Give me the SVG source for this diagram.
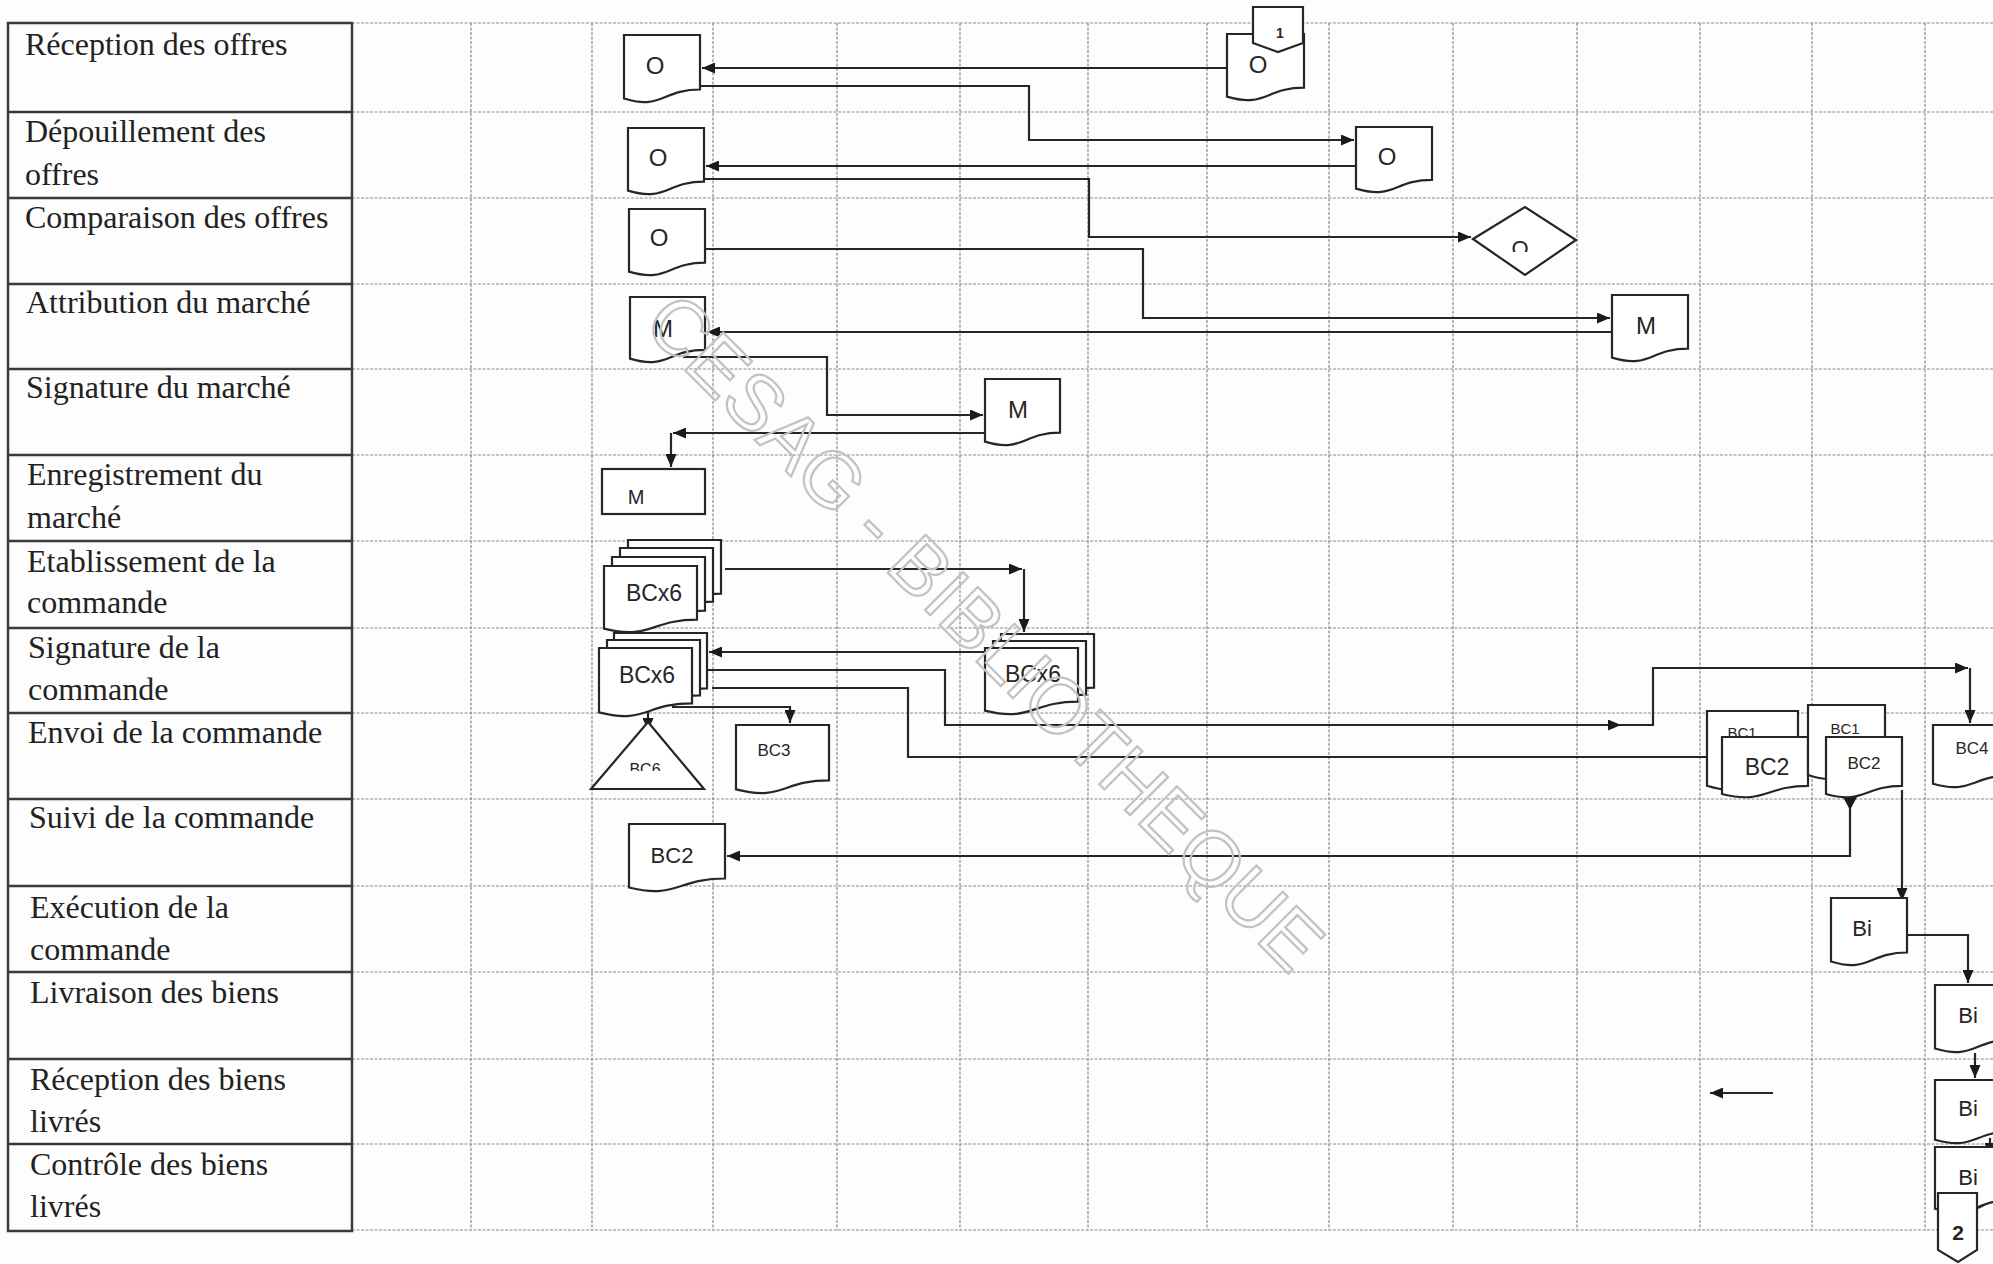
<svg xmlns="http://www.w3.org/2000/svg" width="1993" height="1264" viewBox="0 0 1993 1264">
<defs>
<style>
.grid{stroke:#8c8c8c;stroke-width:1.2;stroke-dasharray:3 1.5;fill:none}
.lane{stroke:#3a3a3a;stroke-width:2.5;fill:none}
.shape{fill:#fff;stroke:#262626;stroke-width:2.2;stroke-linejoin:miter}
.conn{fill:none;stroke:#262626;stroke-width:2.2;marker-end:url(#ah)}
.line{fill:none;stroke:#262626;stroke-width:2.2}
.lbl{font-family:"Liberation Serif","Times New Roman",serif;font-size:32px;fill:#222}
.t{font-family:"Liberation Sans",Arial,sans-serif;fill:#262626;text-anchor:middle}
.wm{font-family:"Liberation Sans",Arial,sans-serif;font-size:78px;fill:none;stroke:#c2c2c2;stroke-width:2.2;text-anchor:middle}
</style>
<marker id="ah" viewBox="0 0 10 10" refX="10" refY="5" markerWidth="13" markerHeight="11" markerUnits="userSpaceOnUse" orient="auto" preserveAspectRatio="none">
<path d="M0,0 L10,5 L0,10 z" fill="#1a1a1a"/>
</marker>
<clipPath id="clipDia"><rect x="1490" y="220" width="70" height="32"/></clipPath>
<clipPath id="clipTri"><rect x="600" y="740" width="100" height="31"/></clipPath>
</defs>
<rect x="0" y="0" width="1993" height="1264" fill="#fdfdfd"/>

<g id="grid">
<path class="grid" d="M352,23 H1993 M352,112 H1993 M352,198 H1993 M352,284 H1993 M352,369 H1993 M352,455 H1993 M352,541 H1993 M352,628 H1993 M352,713 H1993 M352,799 H1993 M352,886 H1993 M352,972 H1993 M352,1059 H1993 M352,1144 H1993 M352,1230 H1993"/>
<path class="grid" d="M471,23 V1230 M592,23 V1230 M713,23 V1230 M837,23 V1230 M960,23 V1230 M1088,23 V1230 M1207,23 V1230 M1329,23 V1230 M1453,23 V1230 M1577,23 V1230 M1700,23 V1230 M1812,23 V1230 M1925,23 V1230"/>
</g>

<g id="lanes">
<rect class="lane" x="8" y="23" width="344" height="1208"/>
<path class="lane" stroke-width="2" d="M8,112 H352 M8,198 H352 M8,284 H352 M8,369 H352 M8,455 H352 M8,541 H352 M8,628 H352 M8,713 H352 M8,799 H352 M8,886 H352 M8,972 H352 M8,1059 H352 M8,1144 H352"/>
<text class="lbl" x="25" y="55">Réception des offres</text>
<text class="lbl" x="25" y="142">Dépouillement des</text>
<text class="lbl" x="25" y="185">offres</text>
<text class="lbl" x="25" y="228">Comparaison des offres</text>
<text class="lbl" x="26" y="313">Attribution du marché</text>
<text class="lbl" x="26" y="398">Signature du marché</text>
<text class="lbl" x="27" y="485">Enregistrement du</text>
<text class="lbl" x="27" y="528">marché</text>
<text class="lbl" x="27" y="572">Etablissement de la</text>
<text class="lbl" x="27" y="613">commande</text>
<text class="lbl" x="28" y="658">Signature de la</text>
<text class="lbl" x="28" y="700">commande</text>
<text class="lbl" x="28" y="743">Envoi de la commande</text>
<text class="lbl" x="29" y="828">Suivi de la commande</text>
<text class="lbl" x="30" y="918">Exécution de la</text>
<text class="lbl" x="30" y="960">commande</text>
<text class="lbl" x="30" y="1003">Livraison des biens</text>
<text class="lbl" x="30" y="1090">Réception des biens</text>
<text class="lbl" x="30" y="1132">livrés</text>
<text class="lbl" x="30" y="1175">Contrôle des biens</text>
<text class="lbl" x="30" y="1217">livrés</text>
</g>

<g id="connectors">
<path class="conn" d="M1227,68 H702"/>
<path class="conn" d="M700,86 H1029 V140 H1354"/>
<path class="conn" d="M1356,166 H706"/>
<path class="conn" d="M704,179 H1089 V237 H1471"/>
<path class="conn" d="M705,249 H1143 V318 H1610"/>
<path class="conn" d="M1612,332 H707"/>
<path class="conn" d="M683,357 H827 V415 H983"/>
<path class="conn" d="M985,433 H673"/>
<path class="conn" d="M671,433 V467"/>
<path class="conn" d="M725,569 H1022"/>
<path class="conn" d="M1024,569 V632"/>
<path class="conn" d="M985,652 H709"/>
<path class="conn" d="M705,670 H945 V725 H1621"/>
<path class="conn" d="M1621,725 H1653 V668 H1968"/>
<path class="conn" d="M1970,668 V723"/>
<path class="conn" d="M712,688 H908 V757 H1720"/>
<path class="conn" d="M1808,756 H1824"/>
<path class="conn" d="M672,707 H790 V723"/>
<path class="conn" d="M648,712 V731"/>
<path class="conn" d="M1850,800 V856 H727"/>
<polygon points="1843,797 1857,797 1850,810" fill="#1a1a1a"/>
<path class="conn" d="M1902,790 V901"/>
<path class="conn" d="M1907,935 H1968 V983"/>
<path class="conn" d="M1975,1053 V1078"/>
<path class="conn" d="M1990,1138 V1156"/>
<path class="line" d="M1978,1208 L1995,1199"/>
<path class="conn" d="M1773,1093 H1710"/>
</g>

<g id="n-o1"><path class="shape" d="M624,35 H700 V89.5 C662,89.5 662,110.3 624,98.5 Z"/><text class="t" x="655" y="74" font-size="24">O</text></g>
<g id="n-o1r"><path class="shape" d="M1227,34 H1304 V87.7 C1265.5,87.7 1265.5,108.2 1227,96.6 Z"/><text class="t" x="1258" y="73" font-size="24">O</text></g>
<g id="n-conn1"><polygon class="shape" points="1253,7 1303,7 1303,43 1278,52 1253,43"/><text class="t" x="1280" y="38" font-size="14" font-weight="bold">1</text></g>
<g id="n-o2"><path class="shape" d="M628,128 H704 V181.7 C666,181.7 666,202.2 628,190.6 Z"/><text class="t" x="658" y="166" font-size="24">O</text></g>
<g id="n-o2r"><path class="shape" d="M1356,127 H1432 V179.9 C1394,179.9 1394,200.1 1356,188.6 Z"/><text class="t" x="1387" y="165" font-size="24">O</text></g>
<g id="n-o3"><path class="shape" d="M629,209 H705 V262.7 C667,262.7 667,283.2 629,271.6 Z"/><text class="t" x="659" y="246" font-size="24">O</text></g>
<g id="n-dia"><polygon class="shape" stroke-width="2" points="1473,239 1525,207 1576,240 1525,275"/><text class="t" x="1520" y="256" font-size="22" clip-path="url(#clipDia)">O</text></g>
<g id="n-m4"><path class="shape" d="M630,297 H705 V349.9 C667.5,349.9 667.5,370.1 630,358.6 Z"/><text class="t" x="663" y="337" font-size="24">M</text></g>
<g id="n-m4r"><path class="shape" d="M1612,295 H1688 V348.7 C1650,348.7 1650,369.2 1612,357.6 Z"/><text class="t" x="1646" y="334" font-size="24">M</text></g>
<g id="n-m5"><path class="shape" d="M985,379 H1060 V432.7 C1022.5,432.7 1022.5,453.2 985,441.6 Z"/><text class="t" x="1018" y="418" font-size="24">M</text></g>
<g id="n-m6"><rect class="shape" x="602" y="469" width="103" height="45"/><text class="t" x="636" y="504" font-size="20">M</text></g>
<g id="n-bcx6a">
<path class="shape" d="M628,540 H721 V593.7 C674.5,593.7 674.5,614.2 628,602.6 Z"/>
<path class="shape" d="M620,548 H713 V601.7 C666.5,601.7 666.5,622.2 620,610.6 Z"/>
<path class="shape" d="M612,557 H705 V610.7 C658.5,610.7 658.5,631.2 612,619.6 Z"/>
<path class="shape" d="M604,566 H697 V619.7 C650.5,619.7 650.5,640.2 604,628.6 Z"/>
<text class="t" x="654" y="601" font-size="23">BCx6</text></g>
<g id="n-bcx6b">
<path class="shape" d="M614,633 H707 V688.3 C660.5,688.3 660.5,709.4 614,697.4 Z"/>
<path class="shape" d="M607,640 H700 V695.3 C653.5,695.3 653.5,716.4 607,704.4 Z"/>
<path class="shape" d="M599,648 H692 V703.3 C645.5,703.3 645.5,724.4 599,712.4 Z"/>
<text class="t" x="647" y="683" font-size="23">BCx6</text></g>
<g id="n-bcx6c">
<path class="shape" d="M1001,634 H1094 V687.7 C1047.5,687.7 1047.5,708.2 1001,696.6 Z"/>
<path class="shape" d="M993,641 H1086 V694.7 C1039.5,694.7 1039.5,715.2 993,703.6 Z"/>
<path class="shape" d="M985,648 H1078 V701.7 C1031.5,701.7 1031.5,722.2 985,710.6 Z"/>
<text class="t" x="1033" y="682" font-size="23">BCx6</text></g>
<g id="n-bc6"><polygon class="shape" points="648,722 704,789 591,789"/><text class="t" x="645" y="775" font-size="16" clip-path="url(#clipTri)">BC6</text></g>
<g id="n-bc3"><path class="shape" d="M736,725 H829 V780.3 C782.5,780.3 782.5,801.4 736,789.4 Z"/><text class="t" x="774" y="756" font-size="17">BC3</text></g>
<g id="n-bc2"><path class="shape" d="M629,824 H725 V878.5 C677,878.5 677,899.3 629,887.5 Z"/><text class="t" x="672" y="863" font-size="22">BC2</text></g>
<g id="n-bc12a">
<path class="shape" d="M1707,711 H1798 V775.2 C1752.5,775.2 1752.5,799.6 1707,785.7 Z"/>
<text class="t" x="1742" y="738" font-size="15">BC1</text>
<path class="shape" d="M1722,737 H1808 V785.9 C1765,785.9 1765,804.6 1722,794 Z"/>
<text class="t" x="1767" y="775" font-size="23">BC2</text></g>
<g id="n-bc12b">
<path class="shape" d="M1808,705 H1885 V765.2 C1846.5,765.2 1846.5,788.1 1808,775 Z"/>
<text class="t" x="1845" y="734" font-size="15">BC1</text>
<path class="shape" d="M1826,737 H1902 V785.9 C1864,785.9 1864,804.6 1826,794 Z"/>
<text class="t" x="1864" y="769" font-size="17">BC2</text></g>
<g id="n-bc4"><path class="shape" d="M1933,725 H2011 V775.5 C1972,775.5 1972,794.8 1933,783.8 Z"/><text class="t" x="1972" y="754" font-size="17">BC4</text></g>
<g id="n-bi1"><path class="shape" d="M1831,898 H1907 V952.5 C1869,952.5 1869,973.3 1831,961.5 Z"/><text class="t" x="1862" y="936" font-size="22">Bi</text></g>
<g id="n-bi2"><path class="shape" d="M1935,985 H2013 V1039.5 C1974,1039.5 1974,1060.3 1935,1048.5 Z"/><text class="t" x="1968" y="1023" font-size="22">Bi</text></g>
<g id="n-bi3"><path class="shape" d="M1935,1080 H2013 V1131.3 C1974,1131.3 1974,1150.9 1935,1139.8 Z"/><text class="t" x="1968" y="1116" font-size="22">Bi</text></g>
<g id="n-bi4"><path class="shape" d="M1935,1147 H2013 V1199.9 C1974,1199.9 1974,1220.1 1935,1208.6 Z"/><text class="t" x="1968" y="1185" font-size="22">Bi</text></g>
<g id="n-conn2"><polygon class="shape" points="1938,1193 1977,1193 1977,1250 1958,1262 1938,1250"/><text class="t" x="1958" y="1240" font-size="21" font-weight="bold">2</text></g>

<g id="watermark">
<text class="wm" x="985" y="632" dominant-baseline="central" transform="rotate(45 985 632)">CESAG - BIBLIOTHEQUE</text>
</g>
</svg>
